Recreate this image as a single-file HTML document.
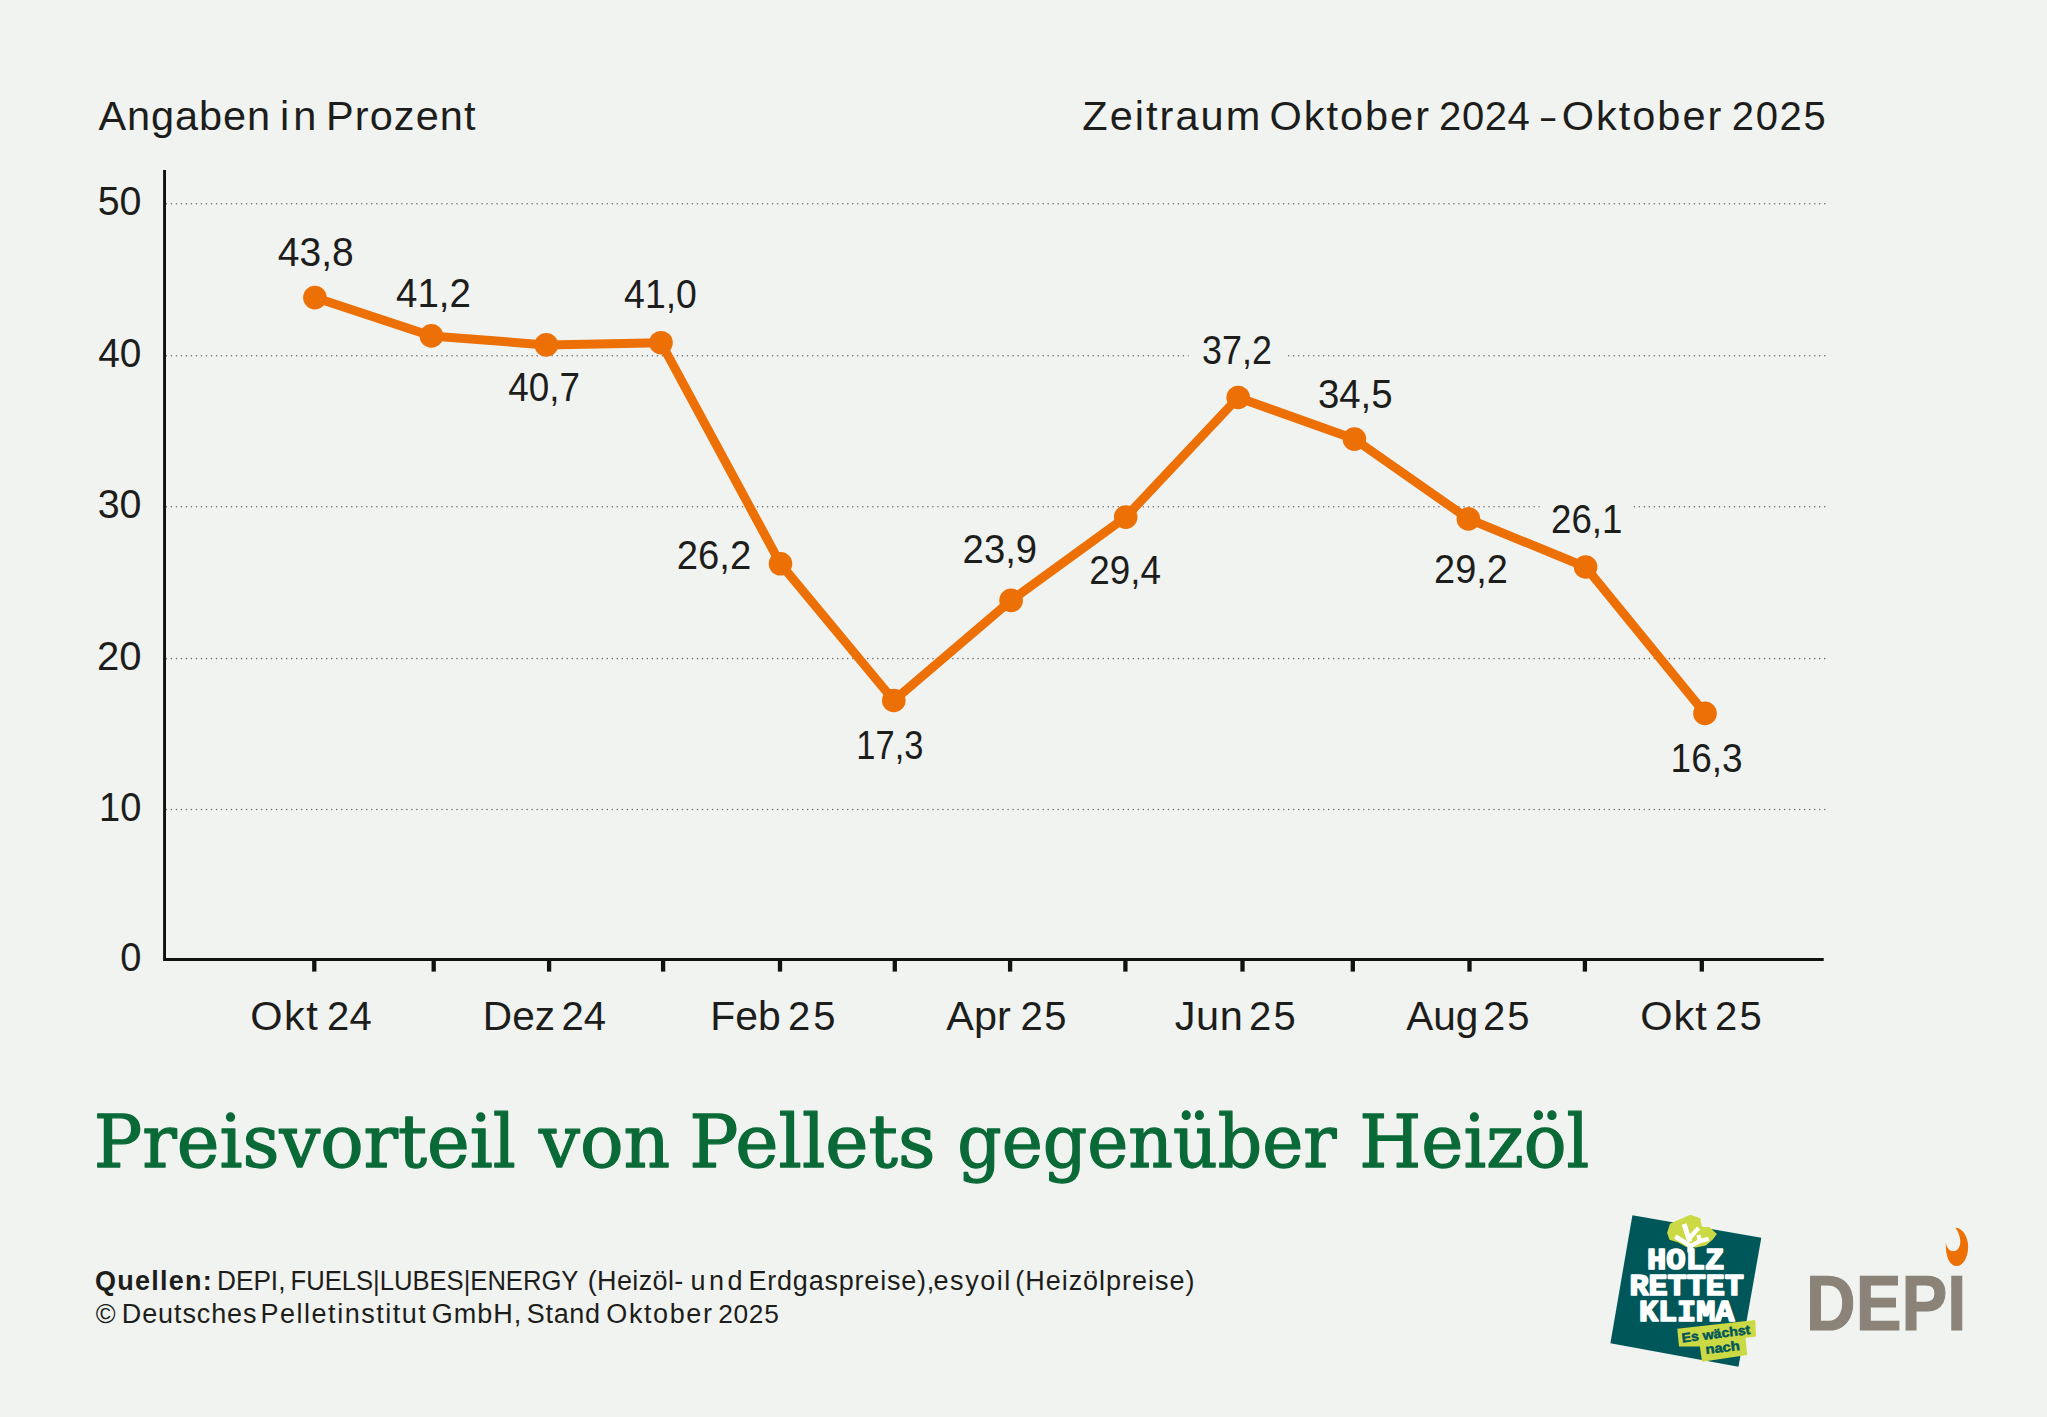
<!DOCTYPE html>
<html lang="de">
<head>
<meta charset="utf-8">
<title>Preisvorteil von Pellets gegenüber Heizöl</title>
<style>
html,body{margin:0;padding:0;background:#f0f3f0;}
body{width:2047px;height:1417px;overflow:hidden;}
svg{display:block;}
text{white-space:pre;}
.s{font-family:"Liberation Sans",Arial,sans-serif;fill:#1d1d1b;}
.t{font-family:"DejaVu Serif","Liberation Serif",serif;fill:#0a6a37;stroke:#0a6a37;stroke-width:1.3;stroke-linejoin:round;}
.m{font-family:"Liberation Mono",monospace;font-weight:bold;fill:#fff;stroke:#fff;stroke-width:1.7;stroke-linejoin:round;}
.b{font-weight:bold;}
</style>
</head>
<body>
<svg width="2047" height="1417" viewBox="0 0 2047 1417">
<rect width="2047" height="1417" fill="#f0f3f0"/>
<g stroke="#6c6d6a" stroke-width="1.55" stroke-linecap="round" stroke-dasharray="0.01 5" fill="none">
<line x1="166.4" y1="203.70" x2="1825.5" y2="203.70"/>
<line x1="166.4" y1="355.80" x2="1825.5" y2="355.80"/>
<line x1="166.4" y1="506.70" x2="1825.5" y2="506.70"/>
<line x1="166.4" y1="658.60" x2="1825.5" y2="658.60"/>
<line x1="166.4" y1="809.50" x2="1825.5" y2="809.50"/>
</g>
<rect x="1188.6" y="340" width="98" height="30" fill="#f0f3f0"/>
<rect x="1539.8" y="492" width="93.5" height="30" fill="#f0f3f0"/>
<path d="M164.55 169.9V959.45H1823.7" fill="none" stroke="#111210" stroke-width="2.9"/>
<g stroke="#111210" stroke-width="4.3">
<line x1="314.3" y1="959.5" x2="314.3" y2="971.6"/>
<line x1="433.7" y1="959.5" x2="433.7" y2="971.6"/>
<line x1="549.1" y1="959.5" x2="549.1" y2="971.6"/>
<line x1="663.1" y1="959.5" x2="663.1" y2="971.6"/>
<line x1="780.0" y1="959.5" x2="780.0" y2="971.6"/>
<line x1="894.8" y1="959.5" x2="894.8" y2="971.6"/>
<line x1="1010.1" y1="959.5" x2="1010.1" y2="971.6"/>
<line x1="1125.4" y1="959.5" x2="1125.4" y2="971.6"/>
<line x1="1242.5" y1="959.5" x2="1242.5" y2="971.6"/>
<line x1="1352.8" y1="959.5" x2="1352.8" y2="971.6"/>
<line x1="1469.5" y1="959.5" x2="1469.5" y2="971.6"/>
<line x1="1584.9" y1="959.5" x2="1584.9" y2="971.6"/>
<line x1="1701.8" y1="959.5" x2="1701.8" y2="971.6"/>
</g>
<path d="M314.9 297.6 L431.4 335.9 L546.3 344.9 L661.0 342.7 L780.5 563.8 L893.8 700.5 L1011.1 600.4 L1125.7 517.1 L1238.2 397.5 L1354.4 439.1 L1468.4 518.9 L1585.6 567.0 L1705.0 713.4" fill="none" stroke="#ec7006" stroke-width="9" stroke-linejoin="round" stroke-linecap="round"/>
<g fill="#ec7006">
<circle cx="314.9" cy="297.6" r="11.8"/>
<circle cx="431.4" cy="335.9" r="11.8"/>
<circle cx="546.3" cy="344.9" r="11.8"/>
<circle cx="661.0" cy="342.7" r="11.8"/>
<circle cx="780.5" cy="563.8" r="11.8"/>
<circle cx="893.8" cy="700.5" r="11.8"/>
<circle cx="1011.1" cy="600.4" r="11.8"/>
<circle cx="1125.7" cy="517.1" r="11.8"/>
<circle cx="1238.2" cy="397.5" r="11.8"/>
<circle cx="1354.4" cy="439.1" r="11.8"/>
<circle cx="1468.4" cy="518.9" r="11.8"/>
<circle cx="1585.6" cy="567.0" r="11.8"/>
<circle cx="1705.0" cy="713.4" r="11.8"/>
</g>
<text class="s" font-size="41.50" x="98.50" y="129.90" letter-spacing="0.895">Angaben</text>
<text class="s" font-size="41.50" x="280.11" y="129.90" letter-spacing="3.824">in</text>
<text class="s" font-size="41.50" x="326.06" y="129.90" letter-spacing="1.063">Prozent</text>
<text class="s" font-size="41.50" x="1082.30" y="129.70" letter-spacing="2.031">Zeitraum</text>
<text class="s" font-size="41.50" x="1269.55" y="129.70" letter-spacing="1.971">Oktober</text>
<text class="s" font-size="40.00" x="1439.12" y="129.70" letter-spacing="0.529">2024</text>
<text class="s" font-size="41.50" transform="translate(1540.90 129.70) scale(0.6169 1)">–</text>
<text class="s" font-size="41.50" x="1561.75" y="129.70" letter-spacing="1.988">Oktober</text>
<text class="s" font-size="40.00" x="1731.83" y="129.70" letter-spacing="1.604">2025</text>
<text class="s" font-size="40.00" transform="translate(277.79 266.10) scale(0.9748 1)">43,8</text>
<text class="s" font-size="40.00" transform="translate(396.00 306.50) scale(0.9629 1)">41,2</text>
<text class="s" font-size="40.00" transform="translate(508.22 400.90) scale(0.9206 1)">40,7</text>
<text class="s" font-size="40.00" transform="translate(624.12 308.30) scale(0.9353 1)">41,0</text>
<text class="s" font-size="40.00" transform="translate(676.81 568.90) scale(0.9562 1)">26,2</text>
<text class="s" font-size="40.00" transform="translate(856.35 759.40) scale(0.8612 1)">17,3</text>
<text class="s" font-size="40.00" transform="translate(962.61 562.60) scale(0.9562 1)">23,9</text>
<text class="s" font-size="40.00" transform="translate(1089.17 584.00) scale(0.9216 1)">29,4</text>
<text class="s" font-size="40.00" transform="translate(1202.08 364.40) scale(0.8962 1)">37,2</text>
<text class="s" font-size="40.00" transform="translate(1317.90 407.90) scale(0.9603 1)">34,5</text>
<text class="s" font-size="40.00" transform="translate(1434.12 583.20) scale(0.9481 1)">29,2</text>
<text class="s" font-size="40.00" transform="translate(1551.08 532.90) scale(0.9172 1)">26,1</text>
<text class="s" font-size="40.00" transform="translate(1670.59 772.10) scale(0.9250 1)">16,3</text>
<text class="s" font-size="41.50" x="250.35" y="1030.00" letter-spacing="1.422">Okt</text>
<text class="s" font-size="40.00" x="327.02" y="1030.00" letter-spacing="0.179">24</text>
<text class="s" font-size="41.50" transform="translate(482.82 1030.00) scale(0.9794 1)">Dez</text>
<text class="s" font-size="40.00" x="561.42" y="1030.00" letter-spacing="0.179">24</text>
<text class="s" font-size="41.50" transform="translate(710.21 1030.00) scale(0.9852 1)">Feb</text>
<text class="s" font-size="40.00" x="788.12" y="1030.00" letter-spacing="2.804">25</text>
<text class="s" font-size="41.50" transform="translate(946.30 1030.00) scale(0.9972 1)">Apr</text>
<text class="s" font-size="40.00" x="1020.42" y="1030.00" letter-spacing="1.704">25</text>
<text class="s" font-size="41.50" x="1174.65" y="1030.00" letter-spacing="0.584">Jun</text>
<text class="s" font-size="40.00" x="1249.12" y="1030.00" letter-spacing="2.104">25</text>
<text class="s" font-size="41.50" transform="translate(1406.20 1030.00) scale(0.9775 1)">Aug</text>
<text class="s" font-size="40.00" x="1483.03" y="1030.00" letter-spacing="2.104">25</text>
<text class="s" font-size="41.50" x="1640.35" y="1030.00" letter-spacing="0.922">Okt</text>
<text class="s" font-size="40.00" x="1715.12" y="1030.00" letter-spacing="2.104">25</text>
<text class="t" font-size="73.00" transform="translate(93.72 1166.80) scale(0.9881 1)">Preisvorteil</text>
<text class="t" font-size="73.00" transform="translate(539.03 1166.80) scale(0.9920 1)">von</text>
<text class="t" font-size="73.00" transform="translate(689.37 1166.80) scale(1.0014 1)">Pellets</text>
<text class="t" font-size="73.00" transform="translate(957.24 1166.80) scale(0.9513 1)">gegenüber</text>
<text class="t" font-size="73.00" transform="translate(1359.16 1166.80) scale(0.9759 1)">Heizöl</text>
<text class="s b" font-size="27.00" x="94.96" y="1289.70" letter-spacing="1.267">Quellen:</text>
<text class="s" font-size="27.00" transform="translate(216.95 1289.70) scale(0.9715 1)">DEPI,</text>
<text class="s" font-size="27.00" transform="translate(290.60 1289.70) scale(0.9485 1)">FUELS|LUBES|ENERGY</text>
<text class="s" font-size="27.00" x="587.63" y="1289.70" letter-spacing="0.390">(Heizöl-</text>
<text class="s" font-size="27.00" x="690.41" y="1289.70" letter-spacing="3.478">und</text>
<text class="s" font-size="27.00" x="748.49" y="1289.70" letter-spacing="0.788">Erdgaspreise),</text>
<text class="s" font-size="27.00" x="933.56" y="1289.70" letter-spacing="1.559">esyoil</text>
<text class="s" font-size="27.00" x="1015.23" y="1289.70" letter-spacing="0.978">(Heizölpreise)</text>
<text class="s" font-size="27.00" transform="translate(95.80 1322.70) scale(0.9986 1)">©</text>
<text class="s" font-size="27.00" x="121.79" y="1322.70" letter-spacing="0.899">Deutsches</text>
<text class="s" font-size="27.00" x="260.49" y="1322.70" letter-spacing="1.519">Pelletinstitut</text>
<text class="s" font-size="27.00" x="431.63" y="1322.70" letter-spacing="1.018">GmbH,</text>
<text class="s" font-size="27.00" x="526.86" y="1322.70" letter-spacing="0.650">Stand</text>
<text class="s" font-size="27.00" x="606.33" y="1322.70" letter-spacing="1.592">Oktober</text>
<text class="s" font-size="26.30" x="718.17" y="1322.70" letter-spacing="0.730">2025</text>
<text class="s" font-size="40.00" transform="translate(97.67 215.00) scale(0.9847 1)">50</text>
<text class="s" font-size="40.00" transform="translate(98.29 367.10) scale(0.9704 1)">40</text>
<text class="s" font-size="40.00" transform="translate(97.67 518.00) scale(0.9847 1)">30</text>
<text class="s" font-size="40.00" transform="translate(97.03 669.90) scale(0.9995 1)">20</text>
<text class="s" font-size="40.00" transform="translate(99.12 820.80) scale(0.9513 1)">10</text>
<text class="s" font-size="40.00" transform="translate(120.31 970.80) scale(0.9500 1)">0</text>
<text class="s b" font-size="78.00" transform="translate(1806.11 1330.00) scale(0.8802 1)" style="fill:#8b8378;stroke:#8b8378;stroke-width:1.2">DEPI</text>
<path transform="translate(1790 1210) scale(0.09881)" fill="#ec7006" d="M1672 178C1760 186 1803 290 1803 372C1803 492 1742 568 1690 568C1618 568 1572 480 1577 332C1588 390 1618 418 1652 418C1696 418 1728 370 1723 312C1719 255 1695 205 1672 178Z"/>
<polygon fill="#00575a" points="1632.4,1215.2 1761.3,1237.7 1738.5,1366.7 1610.4,1343.3"/>
<polygon fill="#cbd944" points="1667.1,1232.7 1670.0,1223.8 1676.9,1220.6 1682.4,1218.3 1690.2,1214.8 1700.3,1218.3 1701.3,1224.5 1702.5,1226.9 1709.3,1227.1 1716.9,1233.9 1712.8,1239.4 1705.8,1245.6 1696.0,1247.4 1686.3,1247.0 1678.4,1242.5 1669.5,1239.8"/>
<g fill="none" stroke="#fff" stroke-linejoin="miter" stroke-linecap="butt">
<path stroke-width="5.8" d="M1690.2 1252.5 L1690.2 1243.7"/>
<path stroke-width="4.4" d="M1690.2 1245.6 L1675.3 1236.5"/>
<path stroke-width="5.0" d="M1689.8 1241.7 L1684.1 1224.1"/>
<path stroke-width="4.4" d="M1689.4 1238.2 L1698.6 1227.9"/>
<path stroke-width="4.4" d="M1690.2 1246.4 L1699.9 1241.1 L1708.7 1238.8"/>
<path stroke-width="4.2" d="M1700.3 1242.5 L1698.4 1235.1"/>
</g>
<text class="m" font-size="30" x="1647.1" y="1268.6" textLength="77.1" lengthAdjust="spacingAndGlyphs">HOLZ</text>
<text class="m" font-size="30" x="1629.4" y="1294.6" textLength="114.5" lengthAdjust="spacingAndGlyphs">RETTET</text>
<text class="m" font-size="30" x="1638.9" y="1320.7" textLength="95.5" lengthAdjust="spacingAndGlyphs">KLIMA</text>
<polygon fill="#cbd944" points="1677.3,1328.8 1755.2,1320.0 1756.0,1336.4 1745.5,1337.8 1747.2,1354.9 1702.0,1361.8 1699.9,1346.5 1679.0,1346.5"/>
<text class="s b" style="fill:#00575a;stroke:#00575a;stroke-width:0.5" font-size="13" transform="translate(1682.2 1342.5) rotate(-7.1)" textLength="69" lengthAdjust="spacingAndGlyphs">Es wächst</text>
<text class="s b" style="fill:#00575a;stroke:#00575a;stroke-width:0.5" font-size="13" transform="translate(1705.9 1354.1) rotate(-7.1)" textLength="34.7" lengthAdjust="spacingAndGlyphs">nach</text>
</svg>
</body>
</html>
